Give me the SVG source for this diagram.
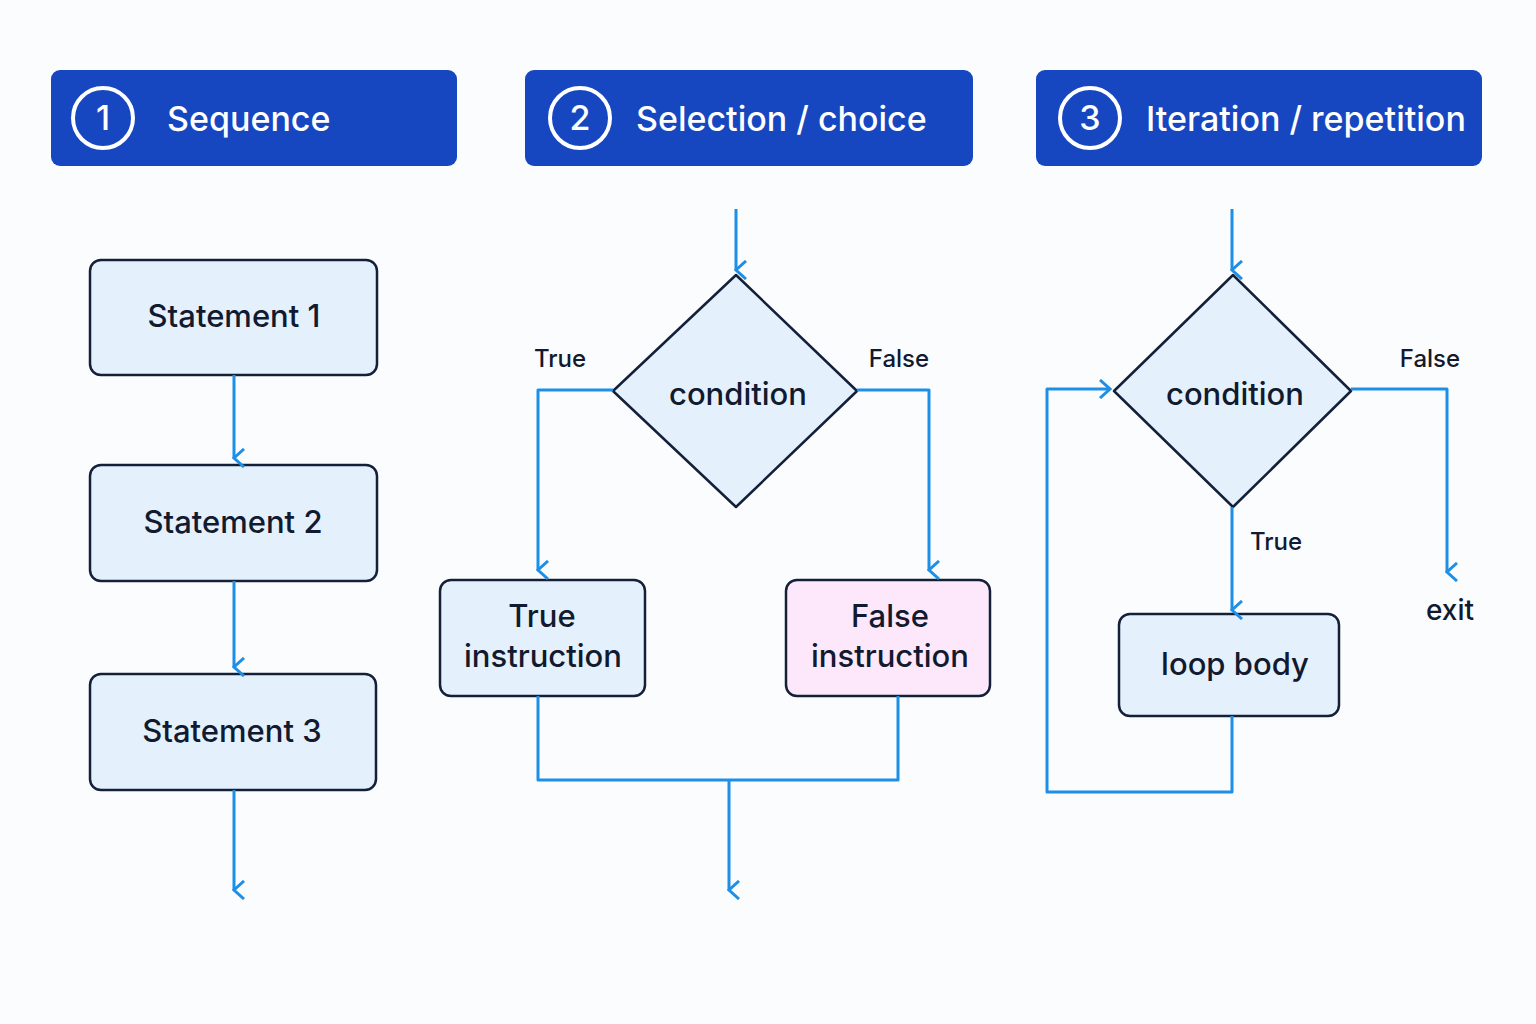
<svg xmlns="http://www.w3.org/2000/svg" width="1536" height="1024" viewBox="0 0 1536 1024">
<defs>
<style>
.hdr{fill:#1747c0}
.hc{fill:none;stroke:#fff;stroke-width:4}
.ht{fill:#fff;font-family:Inter,"Liberation Sans",sans-serif;font-size:34px;font-weight:500}
.box{fill:#e4f0fc;stroke:#14203a;stroke-width:2.5}
.pink{fill:#fde8fb}
.bt{fill:#111a2e;font-family:Inter,"Liberation Sans",sans-serif;font-size:31px;font-weight:500;text-anchor:middle}
.lb{fill:#111a2e;font-family:Inter,"Liberation Sans",sans-serif;font-size:24px;font-weight:500;text-anchor:middle}
.c{fill:none;stroke:#1e8fe6;stroke-width:3;stroke-linejoin:round}
</style>
<marker id="a" viewBox="0 0 20 20" refX="10" refY="18" markerWidth="20" markerHeight="20" markerUnits="userSpaceOnUse" orient="auto-start-reverse">
<path d="M1,8 L10,18 L19,8" fill="none" stroke="#1e8fe6" stroke-width="3"/>
</marker>
<marker id="r" viewBox="0 0 20 20" refX="18" refY="10" markerWidth="20" markerHeight="20" markerUnits="userSpaceOnUse">
<path d="M8,1 L18,10 L8,19" fill="none" stroke="#1e8fe6" stroke-width="3"/>
</marker>
</defs>
<rect width="1536" height="1024" fill="#fbfcfe"/>
<g id="h1"><rect class="hdr" x="51" y="70" width="406" height="96" rx="9"/><circle class="hc" cx="103" cy="118" r="30"/><text class="ht" x="103" y="130" text-anchor="middle">1</text><text class="ht" x="167" y="131">Sequence</text></g>
<g id="h2"><rect class="hdr" x="525" y="70" width="448" height="96" rx="9"/><circle class="hc" cx="580" cy="118" r="30"/><text class="ht" x="580" y="130" text-anchor="middle">2</text><text class="ht" x="636" y="131">Selection / choice</text></g>
<g id="h3"><rect class="hdr" x="1036" y="70" width="446" height="96" rx="9"/><circle class="hc" cx="1090" cy="118" r="30"/><text class="ht" x="1090" y="130" text-anchor="middle">3</text><text class="ht" x="1146" y="131">Iteration / repetition</text></g>
<g id="s1"><rect class="box" x="90" y="260" width="287" height="115" rx="11"/><text class="bt" x="234" y="327">Statement 1</text></g>
<g id="s2"><rect class="box" x="90" y="465" width="287" height="116" rx="11"/><text class="bt" x="233" y="533">Statement 2</text></g>
<g id="s3"><rect class="box" x="90" y="674" width="286" height="116" rx="11"/><text class="bt" x="232" y="742">Statement 3</text></g>
<g id="d1"><polygon class="box" points="736,275 857,391 736,507 613,391" stroke-linejoin="round"/><text class="bt" x="738" y="405">condition</text></g>
<g id="ti"><rect class="box" x="440" y="580" width="205" height="116" rx="11"/><text class="bt" x="542" y="627">True</text><text class="bt" x="543" y="667">instruction</text></g>
<g id="fi"><rect class="box pink" x="786" y="580" width="204" height="116" rx="11"/><text class="bt" x="890" y="627">False</text><text class="bt" x="890" y="667">instruction</text></g>
<g id="d2"><polygon class="box" points="1233,275 1351,391 1233,507 1114,391" stroke-linejoin="round"/><text class="bt" x="1235" y="405">condition</text></g>
<g id="lb"><rect class="box" x="1119" y="614" width="220" height="102" rx="11"/><text class="bt" x="1235" y="675">loop body</text></g>
<g id="connectors">
<path class="c" d="M234,375 V458" marker-end="url(#a)"/>
<path class="c" d="M234,581 V667" marker-end="url(#a)"/>
<path class="c" d="M234,790 V890" marker-end="url(#a)"/>
<path class="c" d="M736,209 V270" marker-end="url(#a)"/>
<path class="c" d="M613,390 H538 V570" marker-end="url(#a)"/>
<path class="c" d="M857,390 H929 V570" marker-end="url(#a)"/>
<path class="c" d="M538,696 V780 H898 V696"/>
<path class="c" d="M729,780 V890" marker-end="url(#a)"/>
<path class="c" d="M1232,209 V270" marker-end="url(#a)"/>
<path class="c" d="M1351,389 H1447 V572" marker-end="url(#a)"/>
<path class="c" d="M1232,507 V610" marker-end="url(#a)"/>
<path class="c" d="M1232,716 V792 H1047 V389 H1110" marker-end="url(#r)"/>
<text class="lb" x="560" y="367">True</text>
<text class="lb" x="899" y="367">False</text>
<text class="lb" x="1430" y="367">False</text>
<text class="lb" x="1276" y="550">True</text>
<text class="bt" x="1450" y="620" style="font-size:28px">exit</text>
</g>
</svg>
